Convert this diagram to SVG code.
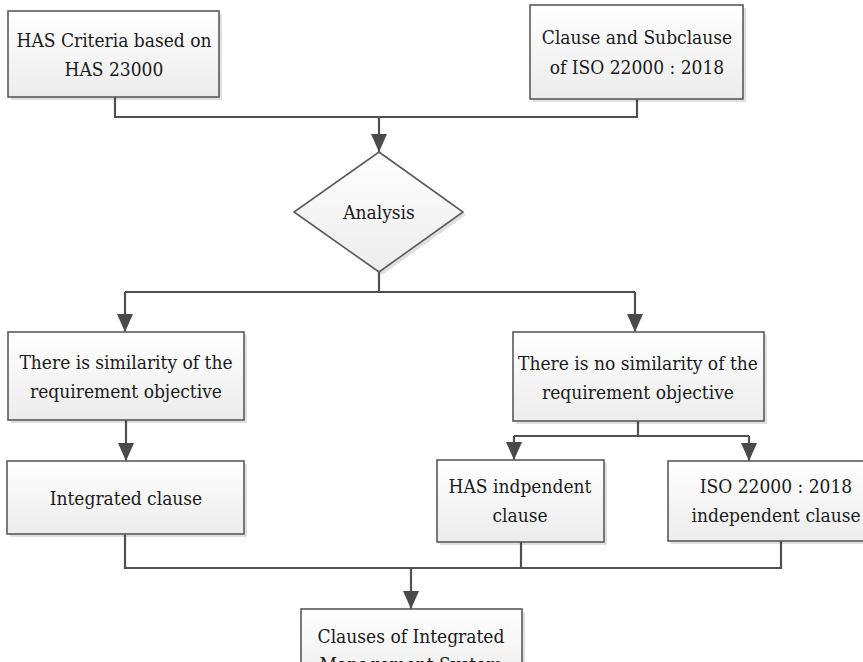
<svg xmlns="http://www.w3.org/2000/svg" width="863" height="662" viewBox="0 0 863 662">
<style>
.box{fill:url(#g);stroke:#5a5a5a;stroke-width:1.6}
.sh{fill:#000;opacity:0.12}
.t{font-family:'DejaVu Serif Condensed','DejaVu Serif','Liberation Serif',serif;font-stretch:condensed;font-size:19px;fill:#1a1a1a;text-anchor:middle}
.c{fill:none;stroke:#505050;stroke-width:2.2}
.a{fill:none;stroke:#505050;stroke-width:2.2;marker-end:url(#ah)}
</style>
<defs>
<linearGradient id="g" x1="0" y1="0" x2="0" y2="1">
<stop offset="0" stop-color="#ffffff"/>
<stop offset="1" stop-color="#ececec"/>
</linearGradient>
<marker id="ah" markerUnits="userSpaceOnUse" markerWidth="18" markerHeight="16" viewBox="0 0 18 16" refX="18" refY="8" orient="auto">
<path d="M0,0 L18,8 L0,16 Z" fill="#4a4a4a"/>
</marker>
</defs>
<rect width="863" height="662" fill="#ffffff"/>
<g id="connectors">
<path class="c" d="M115,97 V117 H637 V99"/>
<path class="a" d="M379,117 V152"/>
<path class="c" d="M379,272 V292 M125,292 H635"/>
<path class="a" d="M125,292 V332"/>
<path class="a" d="M635,292 V332"/>
<path class="a" d="M126,420 V461"/>
<path class="c" d="M638,421 V436 M514,436 H749"/>
<path class="a" d="M514,436 V460"/>
<path class="a" d="M749,436 V461"/>
<path class="c" d="M125,534 V568 H781 V541 M521,542 V568"/>
<path class="a" d="M411,568 V609"/>
</g>
<g id="has-criteria">
<rect class="sh" x="11" y="14" width="211" height="86"/>
<rect class="box" x="8" y="11" width="211" height="86"/>
<text class="t" x="114" y="47">HAS Criteria based on</text>
<text class="t" x="114" y="76">HAS 23000</text>
</g>
<g id="iso-clause">
<rect class="sh" x="533" y="8" width="213" height="94"/>
<rect class="box" x="530" y="5" width="213" height="94"/>
<text class="t" x="637" y="44">Clause and Subclause</text>
<text class="t" x="637" y="74">of ISO 22000 : 2018</text>
</g>
<g id="analysis">
<polygon class="sh" points="382,155 466,215 382,275 297,215"/>
<polygon class="box" points="379,152 463,212 379,272 294,212"/>
<text class="t" x="379" y="219">Analysis</text>
</g>
<g id="similarity">
<rect class="sh" x="11" y="335" width="236" height="88"/>
<rect class="box" x="8" y="332" width="236" height="88"/>
<text class="t" x="126" y="369">There is similarity of the</text>
<text class="t" x="126" y="398">requirement objective</text>
</g>
<g id="no-similarity">
<rect class="sh" x="516" y="335" width="251" height="89"/>
<rect class="box" x="513" y="332" width="251" height="89"/>
<text class="t" x="638" y="370">There is no similarity of the</text>
<text class="t" x="638" y="399">requirement objective</text>
</g>
<g id="integrated-clause">
<rect class="sh" x="10" y="464" width="237" height="73"/>
<rect class="box" x="7" y="461" width="237" height="73"/>
<text class="t" x="126" y="505">Integrated clause</text>
</g>
<g id="has-independent">
<rect class="sh" x="440" y="463" width="167" height="82"/>
<rect class="box" x="437" y="460" width="167" height="82"/>
<text class="t" x="520" y="493">HAS indpendent</text>
<text class="t" x="520" y="522">clause</text>
</g>
<g id="iso-independent">
<rect class="sh" x="671" y="464" width="224" height="80"/>
<rect class="box" x="668" y="461" width="224" height="80"/>
<text class="t" x="776" y="493">ISO 22000 : 2018</text>
<text class="t" x="776" y="522">independent clause</text>
</g>
<g id="ims-clauses">
<rect class="sh" x="304" y="612" width="221" height="80"/>
<rect class="box" x="301" y="609" width="221" height="80"/>
<text class="t" x="411" y="643">Clauses of Integrated</text>
<text class="t" x="411" y="671">Management System</text>
</g>
</svg>
